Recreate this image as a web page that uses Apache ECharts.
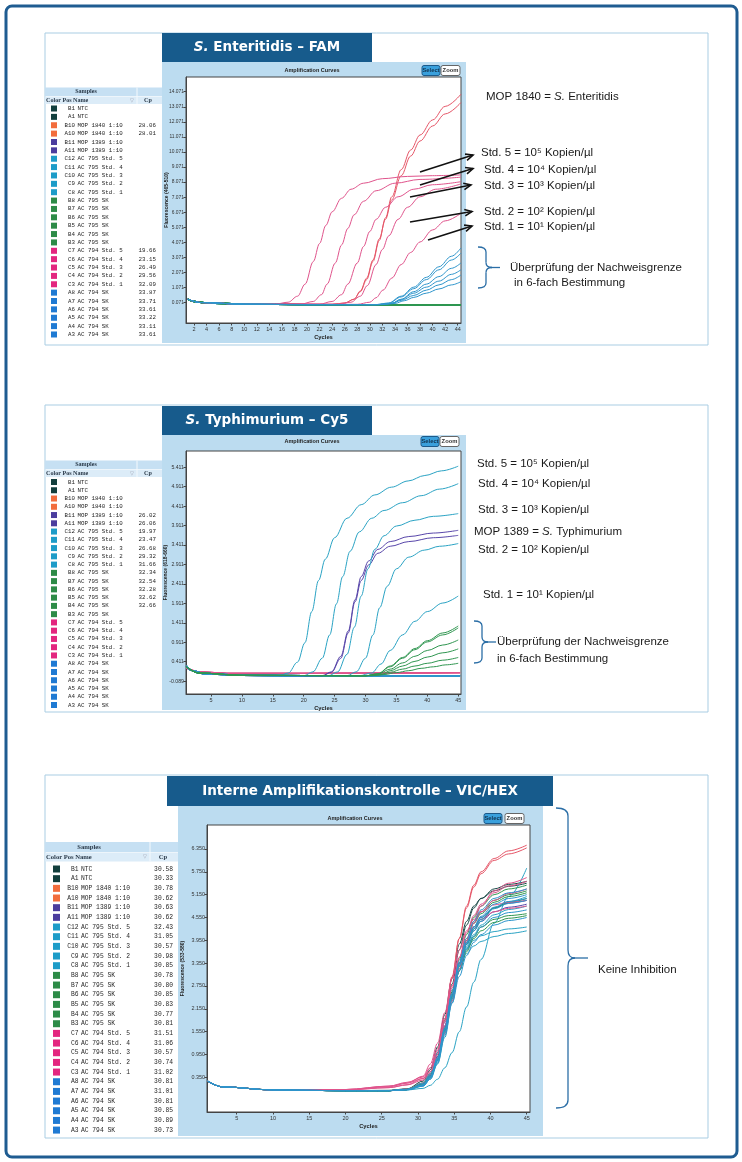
<!DOCTYPE html>
<html>
<head>
<meta charset="utf-8">
<script src="https://cdn.jsdelivr.net/npm/echarts@6/dist/echarts.min.js"></script>
<style>
  html, body { margin: 0; padding: 0; background: #fff; }
  #main { width: 742px; height: 1162px; }
</style>
</head>
<body>
<div id="main"></div>
<script>

// 样本表 (same order in all three panels)
var samplePos = ['B1', 'A1', 'B10', 'A10', 'B11', 'A11', 'C12', 'C11', 'C10', 'C9', 'C8',
  'B8', 'B7', 'B6', 'B5', 'B4', 'B3', 'C7', 'C6', 'C5', 'C4', 'C3', 'A8', 'A7', 'A6', 'A5', 'A4', 'A3'];
var sampleNames = ['NTC', 'NTC', 'MOP 1840 1:10', 'MOP 1840 1:10', 'MOP 1389 1:10', 'MOP 1389 1:10',
  'AC 795 Std. 5', 'AC 795 Std. 4', 'AC 795 Std. 3', 'AC 795 Std. 2', 'AC 795 Std. 1',
  'AC 795 SK', 'AC 795 SK', 'AC 795 SK', 'AC 795 SK', 'AC 795 SK', 'AC 795 SK',
  'AC 794 Std. 5', 'AC 794 Std. 4', 'AC 794 Std. 3', 'AC 794 Std. 2', 'AC 794 Std. 1',
  'AC 794 SK', 'AC 794 SK', 'AC 794 SK', 'AC 794 SK', 'AC 794 SK', 'AC 794 SK'];
var sampleGroup = [0, 0, 1, 1, 2, 2, 3, 3, 3, 3, 3, 4, 4, 4, 4, 4, 4, 5, 5, 5, 5, 5, 6, 6, 6, 6, 6, 6];
var groupColors = ['#123f3d', '#f26d3d', '#4b3d9e', '#1d9cc8', '#2d8b47', '#e3267f', '#1f7ad3'];
var lineColors = ['#1c4a48', '#e65668', '#5846aa', '#2aa3c4', '#2f9650', '#e0548c', '#2d95cc'];

var cpFAM = ['', '', '28.06', '28.01', '', '', '', '', '', '', '', '', '', '', '', '', '',
  '19.66', '23.15', '26.49', '29.56', '32.09', '33.87', '33.71', '33.61', '33.22', '33.11', '33.61'];
var cpCy5 = ['', '', '', '', '26.02', '26.06', '19.97', '23.47', '26.68', '29.32', '31.66',
  '32.34', '32.54', '32.28', '32.62', '32.66', '', '', '', '', '', '', '', '', '', '', '', ''];
var cpHEX = ['30.58', '30.33', '30.78', '30.62', '30.63', '30.62', '32.43', '31.05', '30.57', '30.98', '30.85',
  '30.78', '30.80', '30.85', '30.83', '30.77', '30.81', '31.51', '31.06', '30.57', '30.74', '31.02',
  '30.81', '31.01', '30.81', '30.85', '30.89', '30.73'];

// 坐标轴刻度
var famCycleTicks = [2, 4, 6, 8, 10, 12, 14, 16, 18, 20, 22, 24, 26, 28, 30, 32, 34, 36, 38, 40, 42, 44];
var famFluoTicks = [0.071, 1.071, 2.071, 3.071, 4.071, 5.071, 6.071, 7.071, 8.071, 9.071, 10.071, 11.071, 12.071, 13.071, 14.071];
var cy5CycleTicks = [5, 10, 15, 20, 25, 30, 35, 40, 45];
var cy5FluoTicks = [-0.089, 0.411, 0.911, 1.411, 1.911, 2.411, 2.911, 3.411, 3.911, 4.411, 4.911, 5.411];
var hexCycleTicks = [5, 10, 15, 20, 25, 30, 35, 40, 45];
var hexFluoTicks = [0.35, 0.95, 1.55, 2.15, 2.75, 3.35, 3.95, 4.55, 5.15, 5.75, 6.35];

// FAM curves [cycle, fluorescence]
var famFlat = [[1, 0.3], [2, 0.15], [4, 0.05], [10, -0.03], [20, -0.06], [44.5, -0.08]];
var famCurves = [
  famFlat, famFlat,
  [[1, 0.3], [3, 0.08], [10, -0.03], [24, -0.04], [26, 0.05], [27.5, 0.3], [28.5, 0.8], [29.5, 1.6], [30.5, 2.8], [31.5, 4.2], [32.5, 5.7], [33.5, 7.1], [35, 8.9], [36.5, 10.2], [38, 11.2], [40, 12.2], [42, 13.1], [44.5, 13.9]],
  [[1, 0.3], [3, 0.08], [10, -0.03], [24, -0.04], [26, 0.05], [27.5, 0.3], [28.5, 0.85], [29.5, 1.7], [30.5, 2.9], [31.5, 4.3], [32.5, 5.6], [33.5, 6.9], [35, 8.5], [36.5, 9.8], [38, 10.8], [40, 11.8], [42, 12.6], [44.5, 13.35]],
  famFlat, famFlat,
  famFlat, famFlat, famFlat, famFlat, famFlat,
  famFlat, famFlat, famFlat, famFlat, famFlat, famFlat,
  [[1, 0.3], [3, 0.08], [10, -0.03], [15, -0.02], [17, 0.1], [18.5, 0.5], [19.7, 1.3], [21, 2.8], [22, 4.0], [23, 5.2], [24, 6.1], [25.5, 7.0], [27, 7.6], [29, 8.0], [32, 8.3], [36, 8.45], [40, 8.5], [44.5, 8.55]],
  [[1, 0.3], [3, 0.08], [10, -0.03], [19, -0.03], [21, 0.15], [22.3, 0.6], [23.2, 1.3], [24.5, 2.7], [25.5, 3.9], [26.5, 5.0], [27.5, 5.9], [29, 6.8], [31, 7.5], [34, 8.0], [38, 8.25], [44.5, 8.4]],
  [[1, 0.3], [3, 0.08], [10, -0.03], [22, -0.03], [24, 0.15], [25.5, 0.6], [26.5, 1.3], [28, 2.7], [29, 3.8], [30, 4.8], [31, 5.6], [32.5, 6.4], [34.5, 7.1], [37, 7.6], [40, 7.9], [44.5, 8.1]],
  [[1, 0.3], [3, 0.08], [10, -0.03], [25, -0.04], [27, 0.1], [28.5, 0.5], [29.6, 1.2], [31, 2.6], [32, 3.6], [33, 4.5], [34.5, 5.6], [36, 6.4], [38, 7.1], [40.5, 7.6], [44.5, 7.95]],
  [[1, 0.3], [3, 0.08], [10, -0.03], [28, -0.04], [30, 0.1], [31, 0.4], [32.1, 0.9], [33.5, 1.7], [35, 2.6], [36.5, 3.4], [38, 4.1], [40, 4.9], [42, 5.5], [44.5, 6.0]],
  [[1, 0.3], [3, 0.08], [10, -0.03], [20, -0.06], [32, -0.06], [34, 0.02], [35.5, 0.2], [37, 0.42], [39, 0.7], [41, 0.98], [43, 1.25], [44.5, 1.46]],
  [[1, 0.3], [3, 0.08], [10, -0.03], [20, -0.06], [31.5, -0.06], [33.5, 0.02], [35, 0.22], [37, 0.55], [39, 0.9], [41, 1.25], [43, 1.6], [44.5, 1.9]],
  [[1, 0.3], [3, 0.08], [10, -0.03], [20, -0.06], [31.5, -0.06], [33.5, 0.03], [35, 0.28], [37, 0.7], [39, 1.1], [41, 1.5], [43, 1.95], [44.5, 2.25]],
  [[1, 0.3], [3, 0.08], [10, -0.03], [20, -0.06], [31, -0.06], [33, 0.03], [35, 0.45], [37, 1.0], [39, 1.6], [41, 2.25], [43, 2.9], [44.5, 3.35]],
  [[1, 0.3], [3, 0.08], [10, -0.03], [20, -0.06], [31, -0.06], [33, 0.05], [35, 0.5], [37, 1.1], [39, 1.75], [41, 2.45], [43, 3.15], [44.5, 3.7]],
  [[1, 0.3], [3, 0.08], [10, -0.03], [20, -0.06], [31.5, -0.06], [33.5, 0.03], [35, 0.3], [37, 0.8], [39, 1.3], [41, 1.8], [43, 2.35], [44.5, 2.7]]
];

// Cy5 curves
var cy5Flat = [[1, 0.3], [2, 0.18], [4, 0.1], [10, 0.06], [20, 0.05], [45.3, 0.05]];
var cy5Pink = [[1, 0.25], [3, 0.15], [8, 0.11], [20, 0.11], [45.3, 0.13]];
var cy5Curves = [
  cy5Flat, cy5Flat,
  cy5Flat, cy5Flat,
  [[1, 0.28], [3, 0.12], [10, 0.06], [23, 0.05], [24.5, 0.15], [26, 0.55], [27.2, 1.2], [28.3, 2.0], [29.3, 2.6], [30.5, 3.0], [32, 3.3], [34, 3.5], [37, 3.63], [41, 3.72], [45, 3.79]],
  [[1, 0.28], [3, 0.12], [10, 0.06], [23, 0.05], [24.5, 0.14], [26, 0.5], [27.2, 1.15], [28.3, 1.95], [29.3, 2.5], [30.5, 2.9], [32, 3.2], [34, 3.38], [37, 3.5], [41, 3.6], [45, 3.66]],
  [[1, 0.28], [3, 0.12], [10, 0.06], [16, 0.05], [17.5, 0.12], [19, 0.4], [20.2, 0.9], [21.3, 1.7], [22.4, 2.5], [23.5, 3.05], [25, 3.6], [27, 4.1], [29.3, 4.45], [31.5, 4.7], [34.2, 4.9], [36.9, 5.06], [39.6, 5.2], [42.3, 5.32], [45, 5.44]],
  [[1, 0.28], [3, 0.12], [10, 0.06], [20, 0.05], [21.5, 0.15], [23, 0.5], [24.2, 1.1], [25.3, 1.9], [26.3, 2.6], [27.5, 3.25], [29, 3.75], [31, 4.1], [33, 4.3], [36, 4.5], [39, 4.68], [42, 4.85], [45, 4.99]],
  [[1, 0.28], [3, 0.12], [10, 0.06], [24, 0.05], [25.5, 0.15], [27, 0.6], [28.2, 1.3], [29.3, 2.1], [30.4, 2.8], [31.5, 3.3], [33, 3.65], [35, 3.9], [38, 4.05], [41, 4.15], [45, 4.22]],
  [[1, 0.28], [3, 0.12], [10, 0.06], [27, 0.05], [28.5, 0.15], [30, 0.5], [31.2, 1.1], [32.3, 1.8], [33.5, 2.35], [35, 2.8], [37, 3.1], [39.5, 3.28], [42, 3.38], [45, 3.45]],
  [[1, 0.28], [3, 0.12], [10, 0.06], [29, 0.05], [31, 0.12], [32.5, 0.35], [34, 0.7], [36, 1.1], [38, 1.45], [40, 1.7], [42.5, 1.92], [45, 2.1]],
  [[1, 0.28], [3, 0.12], [10, 0.06], [30, 0.05], [32, 0.1], [34, 0.3], [36, 0.52], [38, 0.75], [40, 0.95], [42.5, 1.15], [45, 1.33]],
  [[1, 0.28], [3, 0.12], [10, 0.06], [30, 0.05], [32, 0.1], [34, 0.28], [36, 0.5], [38, 0.72], [40, 0.92], [42.5, 1.1], [45, 1.28]],
  [[1, 0.28], [3, 0.12], [10, 0.06], [30, 0.05], [32, 0.09], [34, 0.22], [36, 0.38], [38, 0.55], [40, 0.7], [42.5, 0.84], [45, 0.97]],
  [[1, 0.28], [3, 0.12], [10, 0.06], [30, 0.05], [32.5, 0.08], [34, 0.18], [36, 0.3], [38, 0.42], [40, 0.53], [42.5, 0.64], [45, 0.74]],
  [[1, 0.28], [3, 0.12], [10, 0.06], [30, 0.05], [32.5, 0.08], [34, 0.14], [36, 0.22], [38, 0.3], [40, 0.37], [42.5, 0.45], [45, 0.52]],
  [[1, 0.28], [3, 0.12], [10, 0.06], [31, 0.05], [33, 0.08], [35, 0.13], [37, 0.18], [39, 0.24], [41, 0.28], [43, 0.33], [45, 0.37]],
  cy5Pink, cy5Pink, cy5Pink, cy5Pink, cy5Pink,
  cy5Flat, cy5Flat, cy5Flat, cy5Flat, cy5Flat, cy5Flat
];

// VIC/HEX curves, one value per cycle in hexCycles
var hexCycles = [1, 3, 10, 20, 26, 28.5, 30.7, 31.7, 32.7, 33.7, 34.7, 35.7, 36.7, 37.7, 38.7, 40.5, 42.5, 45];
var hexValues = [
  [0.25, 0.1, 0.02, 0.0, 0.0, 0.04, 0.2, 0.45, 1.0, 1.85, 2.8, 3.7, 4.35, 4.8, 5.05, 5.3, 5.42, 5.5],
  [0.26, 0.1, 0.02, 0.0, 0.01, 0.05, 0.25, 0.55, 1.15, 2.0, 2.95, 3.85, 4.45, 4.85, 5.05, 5.25, 5.37, 5.45],
  [0.25, 0.1, 0.02, 0.0, 0.0, 0.04, 0.18, 0.42, 0.95, 1.85, 2.95, 4.0, 4.85, 5.4, 5.75, 6.1, 6.3, 6.45],
  [0.25, 0.1, 0.02, 0.0, 0.0, 0.04, 0.2, 0.45, 1.0, 1.9, 3.0, 4.0, 4.8, 5.35, 5.7, 6.05, 6.22, 6.38],
  [0.25, 0.1, 0.02, 0.0, 0.0, 0.03, 0.17, 0.4, 0.9, 1.7, 2.55, 3.3, 3.85, 4.2, 4.45, 4.7, 4.82, 4.9],
  [0.25, 0.1, 0.02, 0.0, 0.0, 0.03, 0.17, 0.4, 0.9, 1.7, 2.6, 3.35, 3.9, 4.3, 4.55, 4.8, 4.93, 5.0],
  [0.25, 0.1, 0.02, 0.0, 0.0, 0.02, 0.06, 0.14, 0.3, 0.6, 1.0, 1.55, 2.2, 2.85, 3.45, 4.4, 5.1, 5.85],
  [0.25, 0.1, 0.02, 0.0, 0.0, 0.02, 0.12, 0.3, 0.7, 1.4, 2.3, 3.15, 3.8, 4.2, 4.45, 4.8, 4.97, 5.1],
  [0.25, 0.1, 0.02, 0.0, 0.0, 0.04, 0.2, 0.45, 1.0, 1.8, 2.65, 3.35, 3.75, 3.95, 4.07, 4.18, 4.25, 4.3],
  [0.25, 0.1, 0.02, 0.0, 0.0, 0.03, 0.14, 0.33, 0.75, 1.5, 2.35, 3.15, 3.75, 4.1, 4.35, 4.62, 4.76, 4.85],
  [0.25, 0.1, 0.02, 0.0, 0.0, 0.03, 0.17, 0.4, 0.88, 1.65, 2.5, 3.2, 3.6, 3.8, 3.92, 4.05, 4.13, 4.2],
  [0.25, 0.1, 0.02, 0.0, 0.0, 0.03, 0.16, 0.38, 0.85, 1.65, 2.6, 3.45, 4.1, 4.55, 4.85, 5.15, 5.3, 5.4],
  [0.25, 0.1, 0.02, 0.0, 0.0, 0.03, 0.15, 0.36, 0.82, 1.6, 2.5, 3.35, 3.95, 4.4, 4.65, 4.95, 5.1, 5.2],
  [0.25, 0.1, 0.02, 0.0, 0.0, 0.03, 0.15, 0.35, 0.8, 1.55, 2.4, 3.15, 3.7, 4.05, 4.3, 4.5, 4.6, 4.65],
  [0.25, 0.1, 0.02, 0.0, 0.0, 0.03, 0.15, 0.36, 0.8, 1.58, 2.45, 3.25, 3.85, 4.25, 4.5, 4.8, 4.95, 5.05],
  [0.25, 0.1, 0.02, 0.0, 0.0, 0.03, 0.16, 0.37, 0.84, 1.62, 2.45, 3.15, 3.65, 4.0, 4.2, 4.42, 4.53, 4.6],
  [0.25, 0.1, 0.02, 0.0, 0.0, 0.03, 0.15, 0.36, 0.82, 1.6, 2.5, 3.35, 3.95, 4.4, 4.7, 5.0, 5.15, 5.25],
  [0.25, 0.1, 0.02, 0.03, 0.12, 0.2, 0.32, 0.5, 0.85, 1.5, 2.35, 3.2, 3.9, 4.45, 4.85, 5.25, 5.45, 5.6],
  [0.25, 0.1, 0.02, 0.03, 0.12, 0.22, 0.36, 0.6, 1.05, 1.8, 2.7, 3.5, 4.15, 4.6, 4.9, 5.2, 5.38, 5.5],
  [0.25, 0.1, 0.02, 0.03, 0.1, 0.2, 0.38, 0.7, 1.25, 2.05, 2.95, 3.7, 4.2, 4.5, 4.7, 4.88, 4.95, 5.0],
  [0.25, 0.1, 0.02, 0.02, 0.08, 0.16, 0.32, 0.6, 1.1, 1.9, 2.75, 3.5, 4.0, 4.3, 4.5, 4.7, 4.79, 4.85],
  [0.25, 0.1, 0.02, 0.02, 0.08, 0.15, 0.28, 0.5, 0.95, 1.7, 2.55, 3.35, 3.95, 4.4, 4.7, 5.0, 5.18, 5.3],
  [0.25, 0.1, 0.02, 0.0, 0.0, 0.03, 0.15, 0.36, 0.83, 1.62, 2.55, 3.4, 4.0, 4.45, 4.75, 5.05, 5.2, 5.3],
  [0.25, 0.1, 0.02, 0.0, 0.0, 0.02, 0.12, 0.3, 0.72, 1.45, 2.3, 3.0, 3.55, 3.9, 4.1, 4.35, 4.47, 4.55],
  [0.25, 0.1, 0.02, 0.0, 0.0, 0.03, 0.15, 0.36, 0.83, 1.6, 2.5, 3.3, 3.85, 4.25, 4.5, 4.78, 4.92, 5.0],
  [0.25, 0.1, 0.02, 0.0, 0.0, 0.03, 0.14, 0.34, 0.8, 1.56, 2.45, 3.28, 3.88, 4.3, 4.58, 4.9, 5.05, 5.15],
  [0.25, 0.1, 0.02, 0.0, 0.0, 0.03, 0.14, 0.33, 0.78, 1.52, 2.4, 3.15, 3.7, 4.05, 4.3, 4.55, 4.68, 4.75],
  [0.25, 0.1, 0.02, 0.0, 0.0, 0.03, 0.16, 0.38, 0.85, 1.65, 2.55, 3.35, 3.9, 4.3, 4.55, 4.82, 4.97, 5.05]
];

var SANS = '"Liberation Sans", Arial, sans-serif';
var MONO = '"Liberation Mono", "DejaVu Sans Mono", monospace';
var SERIF = '"Liberation Serif", serif';
var TITLE = '"DejaVu Sans", Verdana, sans-serif';
var BLUE_BG = '#bcdcf0';

var myChart = echarts.init(document.getElementById('main'));
var g = [];

function text(x, y, str, size, o) {
  o = o || {};
  var st = {
    text: str, fill: o.fill || '#1a1a1a', fontSize: size,
    fontFamily: o.family || SANS, fontWeight: o.weight || 'normal', fontStyle: o.style || 'normal',
    align: o.align || 'left', textAlign: o.align || 'left',
    verticalAlign: 'middle', textVerticalAlign: 'middle'
  };
  if (o.rich) st.rich = o.rich;
  g.push({ type: 'text', x: x, y: y, z: o.z || 40, style: st });
}

function rect(x, y, w, h, fill, stroke, z, r, lw) {
  g.push({
    type: 'rect', z: z, shape: { x: x, y: y, width: w, height: h, r: r || 0 },
    style: { fill: fill || 'none', stroke: stroke || 'none', lineWidth: lw || 1 }
  });
}

function seg(x1, y1, x2, y2, color, lw) {
  g.push({ type: 'line', z: 60, shape: { x1: x1, y1: y1, x2: x2, y2: y2 }, style: { stroke: color, lineWidth: lw } });
}

function arrow(x1, y1, x2, y2) {
  var a = Math.atan2(y2 - y1, x2 - x1), L = 8, s = 0.42;
  seg(x1, y1, x2, y2, '#111', 1.6);
  g.push({
    type: 'polyline', z: 60,
    shape: { points: [[x2 - L * Math.cos(a - s), y2 - L * Math.sin(a - s)], [x2, y2], [x2 - L * Math.cos(a + s), y2 - L * Math.sin(a + s)]] },
    style: { stroke: '#111', lineWidth: 1.6, fill: null }
  });
}

function curve(x1, y1, cx, cy, x2, y2, color, lw) {
  g.push({ type: 'bezierCurve', z: 60, shape: { x1: x1, y1: y1, cpx1: cx, cpy1: cy, x2: x2, y2: y2 },
    style: { stroke: color, lineWidth: lw, fill: null } });
}

// 花括号
function brace(xe, xs, xt, xk, y0, y1, r) {
  var ym = (y0 + y1) / 2, c = '#2b6ea6', lw = 1.3;
  curve(xe, y0, xs, y0, xs, y0 + r, c, lw);
  seg(xs, y0 + r, xs, ym - r, c, lw);
  curve(xs, ym - r, xs, ym, xt, ym, c, lw);
  curve(xt, ym, xs, ym, xs, ym + r, c, lw);
  seg(xs, ym + r, xs, y1 - r, c, lw);
  curve(xs, y1 - r, xs, y1, xe, y1, c, lw);
  seg(xt, ym, xk, ym, c, lw);
}

// 样本列表
function table(t, cps) {
  rect(t.x, t.sampY, t.w, t.sampH, '#c6e0f3', null, -3);
  rect(t.x, t.colY, t.w, t.colH, '#dcecf8', null, -3);
  seg(t.divX, t.sampY, t.divX, t.colY + t.colH, '#f4f9fd', 1);
  text(t.sampX, t.sampY + t.sampH / 2, 'Samples', t.fs + 0.3, { family: SERIF, weight: 'bold', align: 'center', fill: '#2a3a4a' });
  var cy = t.colY + t.colH / 2;
  text(t.x + 1, cy, 'Color Pos Name', t.fs + 0.3, { family: SERIF, weight: 'bold', fill: '#2a3a4a' });
  text(t.divX - 5, cy, '▽', t.fs - 1, { align: 'center', fill: '#99a' });
  text(t.cpX, cy, 'Cp', t.fs + 0.3, { family: SERIF, weight: 'bold', align: 'center', fill: '#2a3a4a' });
  for (var i = 0; i < samplePos.length; i++) {
    var y = t.row0 + i * t.rowH;
    rect(t.sqX, y - t.sq / 2, t.sq, t.sq, groupColors[sampleGroup[i]], null, 5);
    text(t.posR, y, samplePos[i], t.fs, { family: MONO, align: 'right', fill: '#262626' });
    text(t.nameX, y, sampleNames[i], t.fs, { family: MONO, fill: '#262626' });
    if (cps[i]) text(t.cpR, y, cps[i], t.fs, { family: MONO, align: 'right', fill: '#262626' });
  }
}

// 外框 and panels
rect(6, 6, 731, 1151, null, '#1f5c91', 1, 6, 3);
rect(45, 33, 663, 312, '#fff', '#a9cde3', -6);
rect(45, 405, 663, 307, '#fff', '#a9cde3', -6);
rect(45, 775, 663, 363, '#fff', '#a9cde3', -6);

rect(162, 62, 304, 281, BLUE_BG, null, -5);
rect(162, 435, 304, 275, BLUE_BG, null, -5);
rect(178, 806, 365, 330, BLUE_BG, null, -5);

// title tabs
rect(162, 33, 210, 29, '#175b8c', null, 10);
rect(162, 406, 210, 29, '#175b8c', null, 10);
rect(167, 776, 386, 30, '#175b8c', null, 10);
var titleRich = { i: { fontStyle: 'italic', fontWeight: 'bold', fontSize: 13.5, fontFamily: TITLE, fill: '#fff' } };
text(267, 47.5, '{i|S.} Enteritidis – FAM', 13.5, { family: TITLE, weight: 'bold', align: 'center', fill: '#fff', rich: titleRich });
text(267, 420.5, '{i|S.} Typhimurium – Cy5', 13.5, { family: TITLE, weight: 'bold', align: 'center', fill: '#fff', rich: titleRich });
text(360, 791, 'Interne Amplifikationskontrolle – VIC/HEX', 13.5, { family: TITLE, weight: 'bold', align: 'center', fill: '#fff' });

// tables
table({ x: 45, w: 117, sampY: 87.5, sampH: 8.5, colY: 96.5, colH: 7.5, sampX: 86, divX: 137, cpX: 148,
  row0: 108.5, rowH: 8.37, fs: 5.8, sq: 6, sqX: 51, posR: 75, nameX: 77.5, cpR: 156 }, cpFAM);
table({ x: 45, w: 117, sampY: 460.5, sampH: 8.5, colY: 469.5, colH: 7.5, sampX: 86, divX: 137, cpX: 148,
  row0: 482, rowH: 8.26, fs: 5.8, sq: 6, sqX: 51, posR: 75, nameX: 77.5, cpR: 156 }, cpCy5);
table({ x: 45, w: 133, sampY: 842, sampH: 10, colY: 852.5, colH: 9, sampX: 89, divX: 150, cpX: 163,
  row0: 869, rowH: 9.67, fs: 6.3, sq: 7, sqX: 53, posR: 78.5, nameX: 81, cpR: 173 }, cpHEX);

// chart headers + buttons
function header(cx, cy, sx, zx) {
  text(cx, cy, 'Amplification Curves', 5.5, { weight: 'bold', align: 'center', fill: '#222' });
  rect(sx, cy - 5, 18, 10, '#3aa0dc', '#1d5a8a', 10, 2);
  text(sx + 9, cy, 'Select', 5.8, { weight: 'bold', align: 'center', fill: '#12334f' });
  rect(zx, cy - 5, 19, 10, '#fff', '#666', 10, 2);
  text(zx + 9.5, cy, 'Zoom', 5.8, { weight: 'bold', align: 'center', fill: '#333' });
}
header(312, 70.5, 422, 441);
header(312, 441.5, 421, 440);
header(355, 818.5, 484, 505);

// 右侧说明
var italicRich = { i: { fontStyle: 'italic', fontSize: 11.5, fontFamily: SANS, fill: '#1a1a1a' } };
text(486, 97, 'MOP 1840 = {i|S.} Enteritidis', 11.5, { rich: italicRich });
text(481, 153, 'Std. 5 = 10⁵ Kopien/µl', 11.5);
text(484, 169.5, 'Std. 4 = 10⁴ Kopien/µl', 11.5);
text(484, 186, 'Std. 3 = 10³ Kopien/µl', 11.5);
text(484, 211.5, 'Std. 2 = 10² Kopien/µl', 11.5);
text(484, 227, 'Std. 1 = 10¹ Kopien/µl', 11.5);
text(510, 268, 'Überprüfung der Nachweisgrenze', 11.5);
text(514, 283, 'in 6-fach Bestimmung', 11.5);
arrow(420, 172, 473, 155);
arrow(420, 185, 473, 168.5);
arrow(410, 197, 471, 185);
arrow(410, 222, 472, 211.5);
arrow(428, 240, 472, 226);
brace(478, 486, 492, 500, 247, 288, 5);

text(477, 463.5, 'Std. 5 = 10⁵ Kopien/µl', 11.5);
text(478, 483.5, 'Std. 4 = 10⁴ Kopien/µl', 11.5);
text(478, 509.5, 'Std. 3 = 10³ Kopien/µl', 11.5);
text(474, 532, 'MOP 1389 = {i|S.} Typhimurium', 11.5, { rich: italicRich });
text(478, 549.5, 'Std. 2 = 10² Kopien/µl', 11.5);
text(483, 594.5, 'Std. 1 = 10¹ Kopien/µl', 11.5);
text(497, 642, 'Überprüfung der Nachweisgrenze', 11.5);
text(497, 658.5, 'in 6-fach Bestimmung', 11.5);
brace(474, 482, 488, 496, 621, 663, 5);

brace(556, 568, 575, 588, 808, 1108, 8);
text(598, 970, 'Keine Inhibition', 11.5);

// axes
function xAx(idx, min, max, ticks) {
  return {
    type: 'value', gridIndex: idx, min: min, max: max,
    name: 'Cycles', nameLocation: 'middle', nameGap: 11, nameMoveOverlap: false,
    nameTextStyle: { fontSize: 5.8, fontWeight: 'bold', color: '#222', fontFamily: SANS },
    axisLine: { show: true, onZero: false, lineStyle: { color: '#444', width: 1 } },
    axisTick: { show: true, length: 2.5, customValues: ticks, lineStyle: { color: '#444' } },
    axisLabel: { customValues: ticks, fontSize: 5.5, color: '#333', margin: 3, fontFamily: SANS },
    splitLine: { show: false }
  };
}
function yAx(idx, min, max, ticks, name, gap, fs) {
  return {
    type: 'value', gridIndex: idx, min: min, max: max,
    name: name, nameLocation: 'middle', nameGap: gap, nameRotate: 90, nameMoveOverlap: false,
    nameTextStyle: { fontSize: 5, fontWeight: 'bold', color: '#222', fontFamily: SANS },
    axisLine: { show: true, lineStyle: { color: '#444', width: 1 } },
    axisTick: { show: true, length: 2.5, customValues: ticks, lineStyle: { color: '#444' } },
    axisLabel: { customValues: ticks, fontSize: fs, color: '#333', margin: 2, fontFamily: SANS,
      formatter: function (v) { return v.toFixed(3); } },
    splitLine: { show: false }
  };
}

var series = [];
function addSeries(idx, curves) {
  // flat baselines first, rising curves on top
  [true, false].forEach(function (flatPass) {
    curves.forEach(function (c, i) {
      var flat = c[c.length - 1][1] < 0.2;
      if (flat !== flatPass) return;
      series.push({
        type: 'line', xAxisIndex: idx, yAxisIndex: idx, data: c,
        name: samplePos[i], symbol: 'none', smooth: 0.35, smoothMonotone: 'x',
        color: lineColors[sampleGroup[i]], lineStyle: { width: flat ? 1.4 : 1 },
        silent: true, animation: false
      });
    });
  });
}
addSeries(0, famCurves);
addSeries(1, cy5Curves);
addSeries(2, hexValues.map(function (vals) {
  return hexCycles.map(function (c, k) { return [c, vals[k]]; });
}));

var option = {
  backgroundColor: '#fff',
  animation: false,
  grid: [
    { left: 186, top: 77, width: 275, height: 246, show: true, backgroundColor: '#fff', borderColor: '#444', borderWidth: 1 },
    { left: 186, top: 451, width: 275, height: 243, show: true, backgroundColor: '#fff', borderColor: '#444', borderWidth: 1 },
    { left: 207, top: 825, width: 323, height: 287, show: true, backgroundColor: '#fff', borderColor: '#444', borderWidth: 1 }
  ],
  xAxis: [
    xAx(0, 0.73, 44.52, famCycleTicks),
    xAx(1, 0.95, 45.45, cy5CycleTicks),
    xAx(2, 0.9, 45.45, hexCycleTicks)
  ],
  yAxis: [
    yAx(0, -1.28, 15.05, famFluoTicks, 'Fluorescence (465-510)', 17, 4.9),
    yAx(1, -0.42, 5.83, cy5FluoTicks, 'Fluorescence (618-660)', 18, 5.2),
    yAx(2, -0.56, 6.98, hexFluoTicks, 'Fluorescence (533-580)', 22, 5.4)
  ],
  graphic: { elements: g },
  series: series
};

myChart.setOption(option);

</script>
</body>
</html>
